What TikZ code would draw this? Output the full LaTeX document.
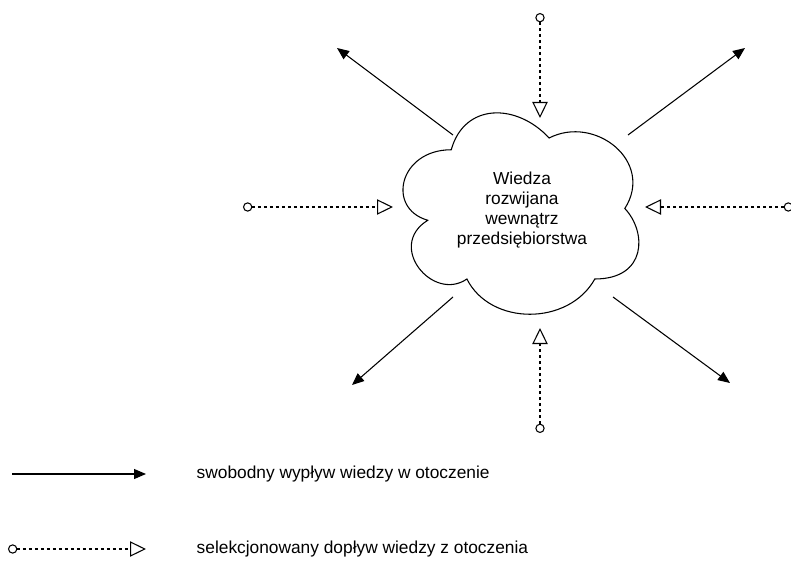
\documentclass[tikz,border=0pt]{standalone}
\usepackage{fontspec}
\setmainfont{Liberation Sans}
\usetikzlibrary{arrows.meta}

\begin{document}
\begin{tikzpicture}[x=0.75pt,y=-0.75pt]
	\tikzset{chmura/.style={draw=black, line width=0.8pt}, wyplyw/.style={line width=0.8pt, -{Triangle[length=9pt,width=7.5pt]}}, doplyw/.style={line width=0.8pt, dash pattern=on 2.5pt off 2pt, {Circle[open,length=7pt,width=7pt]}-{Triangle[open,length=12pt,width=11.5pt]}}, opis/.style={font=\fontsize{13}{15}\selectfont, anchor=west}};
	\useasboundingbox (0,0) rectangle (791,570);

	% chmura
	\begin{scope}[shift={(386,91)}, x=195.75pt, y=-176.25pt]
		\draw[chmura] (0.25,0.25) .. controls (0.05,0.25) and (0,0.5) .. (0.16,0.55) .. controls (0,0.66) and (0.18,0.9) .. (0.31,0.8) .. controls (0.4,1) and (0.7,1) .. (0.8,0.8) .. controls (1,0.8) and (1,0.6) .. (0.915,0.5) .. controls (1.03,0.3) and (0.8,0.1) .. (0.625,0.2) .. controls (0.5,0.05) and (0.3,0.05) .. (0.25,0.25) -- cycle;
	\end{scope}
	\node[align=center, font=\fontsize{13}{15}\selectfont] (wiedza) at (522,210) {Wiedza\\rozwijana\\wewnątrz\\przedsiębiorstwa};

	% wyplyw
	\coordinate (w1) at (453,135); \coordinate (w2) at (337,48);
	\coordinate (w3) at (628,135); \coordinate (w4) at (745,48);
	\coordinate (w5) at (453,297); \coordinate (w6) at (352,385);
	\coordinate (w7) at (613,297); \coordinate (w8) at (730,383);
	\draw[wyplyw] (w1) -- (w2);
	\draw[wyplyw] (w3) -- (w4);
	\draw[wyplyw] (w5) -- (w6);
	\draw[wyplyw] (w7) -- (w8);

	% doplyw
	\coordinate (d1) at (540,13); \coordinate (d2) at (540,118);
	\coordinate (d3) at (540,433); \coordinate (d4) at (540,328);
	\coordinate (d5) at (243,207); \coordinate (d6) at (393,207);
	\coordinate (d7) at (793,207); \coordinate (d8) at (645,207);
	\draw[doplyw] (d1) -- (d2);
	\draw[doplyw] (d3) -- (d4);
	\draw[doplyw] (d5) -- (d6);
	\draw[doplyw] (d7) -- (d8);

	% legenda
	\coordinate (l1) at (12,474); \coordinate (l2) at (146,474);
	\coordinate (l3) at (8,549); \coordinate (l4) at (146,549);
	\draw[wyplyw] (l1) -- (l2);
	\draw[doplyw] (l3) -- (l4);
	\node[opis] (o1) at (192,474) {swobodny wypływ wiedzy w otoczenie};
	\node[opis] (o2) at (192,549) {selekcjonowany dopływ wiedzy z otoczenia};
\end{tikzpicture}
\end{document}
